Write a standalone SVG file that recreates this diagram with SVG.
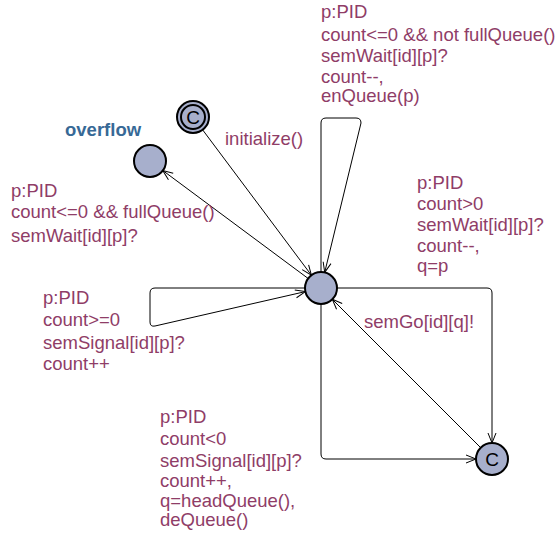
<svg xmlns="http://www.w3.org/2000/svg" width="556" height="534" viewBox="0 0 556 534">
<defs>
<style>
.node{fill:#a7afcc;stroke:#000;stroke-width:2}
.edge{fill:none;stroke:#000;stroke-width:1;marker-end:url(#arr)}
.lbl{font-family:"Liberation Sans",Arial,sans-serif;font-size:18.5px;fill:#8f3d67}
.name{font-family:"Liberation Sans",Arial,sans-serif;font-size:18.5px;font-weight:bold;fill:#376996}
.c{font-family:"Liberation Sans",Arial,sans-serif;font-size:19px;fill:#000;text-anchor:middle}
</style>
<marker id="arr" markerWidth="12" markerHeight="10" refX="11" refY="5" orient="auto" markerUnits="userSpaceOnUse">
<path d="M1,1 L11,5 L1,9" fill="none" stroke="#000" stroke-width="1"/>
</marker>
</defs>
<rect width="556" height="534" fill="#fff"/>
<g id="connectors">
<path class="edge" d="M202.6,129.8 L311.4,275.2"/>
<path class="edge" d="M308.2,278.5 L162.8,170.5"/>
<path class="edge" d="M321,272 L321,123 Q321,118 326,118 L356,118 Q361,118 361,123 L324.7,272.4"/>
<path class="edge" d="M305,288 L155,288 Q150,288 150,293 L150,322 Q150,327 155,326 L305.4,291.6"/>
<path class="edge" d="M337,288 L487,288 Q492,288 492,293 L492,443"/>
<path class="edge" d="M321,304 L321,454 Q321,459 326,459 L476,459"/>
<path class="edge" d="M480.7,447.7 L332.3,299.3"/>
</g>
<g id="init">
<circle class="node" cx="193" cy="117" r="16"/>
<circle class="node" cx="193" cy="117" r="12" stroke-width="1.5"/>
<text class="c" x="193" y="124">C</text>
</g>
<g id="overflow">
<circle class="node" cx="150" cy="161" r="16"/>
<text class="name" x="65" y="136">overflow</text>
</g>
<g id="main">
<circle class="node" cx="321" cy="288" r="16"/>
</g>
<g id="committed">
<circle class="node" cx="492" cy="459" r="16"/>
<text class="c" x="492" y="466">C</text>
</g>
<g id="labels">
<text class="lbl" x="225" y="145">initialize()</text>
<text class="lbl" x="321" y="18">p:PID</text>
<text class="lbl" x="321" y="41">count&lt;=0 &amp;&amp; not fullQueue()</text>
<text class="lbl" x="321" y="62">semWait[id][p]?</text>
<text class="lbl" x="321" y="83">count--,</text>
<text class="lbl" x="321" y="102">enQueue(p)</text>
<text class="lbl" x="11" y="197">p:PID</text>
<text class="lbl" x="11" y="218">count&lt;=0 &amp;&amp; fullQueue()</text>
<text class="lbl" x="11" y="242">semWait[id][p]?</text>
<text class="lbl" x="417" y="189">p:PID</text>
<text class="lbl" x="417" y="210">count&gt;0</text>
<text class="lbl" x="417" y="231">semWait[id][p]?</text>
<text class="lbl" x="417" y="252">count--,</text>
<text class="lbl" x="417" y="272">q=p</text>
<text class="lbl" x="43" y="304">p:PID</text>
<text class="lbl" x="43" y="326">count&gt;=0</text>
<text class="lbl" x="43" y="349">semSignal[id][p]?</text>
<text class="lbl" x="43" y="370">count++</text>
<text class="lbl" x="364" y="328">semGo[id][q]!</text>
<text class="lbl" x="160" y="423">p:PID</text>
<text class="lbl" x="160" y="445">count&lt;0</text>
<text class="lbl" x="160" y="467">semSignal[id][p]?</text>
<text class="lbl" x="160" y="487">count++,</text>
<text class="lbl" x="160" y="507">q=headQueue(),</text>
<text class="lbl" x="160" y="526">deQueue()</text>
</g>
</svg>
